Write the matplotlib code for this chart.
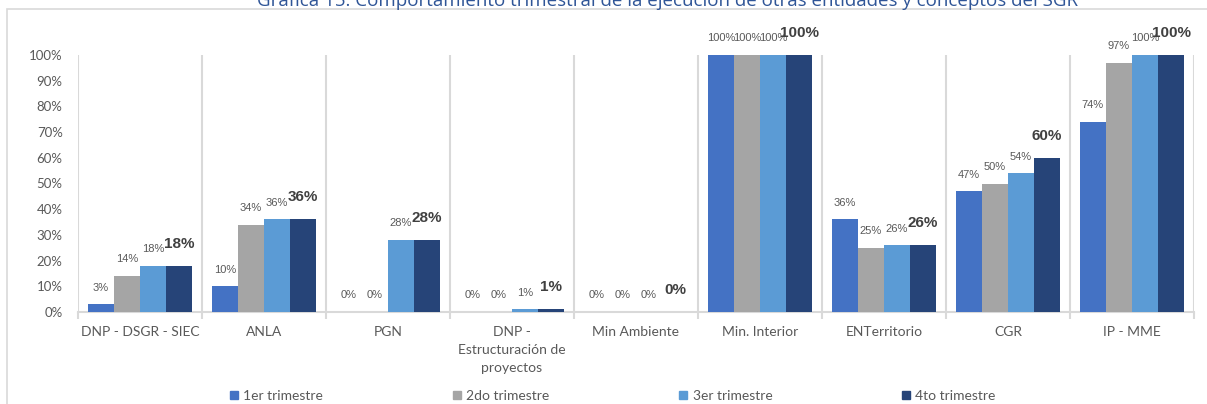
import matplotlib.pyplot as plt
from matplotlib.lines import Line2D
from matplotlib.patches import Rectangle
import numpy as np

categories = ['DNP - DSGR - SIEC', 'ANLA', 'PGN', 'DNP -\nEstructuración de\nproyectos',
              'Min Ambiente', 'Min. Interior', 'ENTerritorio', 'CGR', 'IP - MME']
series_names = ['1er trimestre', '2do trimestre', '3er trimestre', '4to trimestre']
q1 = [3, 10, 0, 0, 0, 100, 36, 47, 74]
q2 = [14, 34, 0, 0, 0, 100, 25, 50, 97]
q3 = [18, 36, 28, 1, 0, 100, 26, 54, 100]
q4 = [18, 36, 28, 1, 0, 100, 26, 60, 100]
colors = ['#4472C4', '#A5A5A5', '#5B9BD5', '#264478']

narrow = ['Lato', 'DejaVu Sans']
arial = ['Liberation Sans', 'DejaVu Sans']
grid_c = '#D9D9D9'
txt_c = '#595959'

fig = plt.figure(figsize=(12.07, 4.04), dpi=100)
W, H = 1207, 404
ax = fig.add_axes([78 / W, 1 - 312 / H, (1194 - 78) / W, (312 - 55) / H])

x = np.arange(len(categories))
width = 0.21
all_series = [q1, q2, q3, q4]
for i, vals in enumerate(all_series):
    pos = x + (i - 1.5) * width
    ax.bar(pos, np.array(vals) / 100, width, color=colors[i], label=series_names[i], zorder=3)
    for px, v in zip(pos, vals):
        if i == 3:
            # last quarter labels are bold and bigger
            ax.annotate(f'{v}%', (px, v / 100), xytext=(0, 16), textcoords='offset points',
                        ha='center', va='center', fontsize=11, fontweight='bold',
                        color='#404040', family=arial, annotation_clip=False)
        else:
            ax.annotate(f'{v}%', (px, v / 100), xytext=(0, 12), textcoords='offset points',
                        ha='center', va='center', fontsize=8, color=txt_c,
                        family=arial, annotation_clip=False)

ax.set_xlim(-0.5, len(categories) - 0.5)
ax.set_ylim(0, 1.0)
ax.set_yticks(np.arange(0, 1.01, 0.1))
ax.set_yticklabels([f'{int(round(t * 100))}%' for t in np.arange(0, 1.01, 0.1)],
                   family=narrow, fontsize=9.5, color=txt_c)
ax.tick_params(axis='y', length=0, pad=11)

ax.set_xticks(x)
ax.set_xticklabels(categories, family=narrow, fontsize=10, color=txt_c, linespacing=1.6, va='top')
ax.tick_params(axis='x', which='major', length=0, pad=10)
ax.set_xticks(np.arange(-0.5, len(categories), 1), minor=True)
ax.tick_params(axis='x', which='minor', length=5, width=1.5, color=grid_c, direction='out')
ax.grid(True, axis='x', which='minor', color=grid_c, linewidth=1.5, zorder=0)
ax.grid(False, axis='x', which='major')

for s in ['top', 'right', 'left']:
    ax.spines[s].set_visible(False)
ax.spines['bottom'].set_color(grid_c)
ax.spines['bottom'].set_linewidth(1.5)

# chart frame and caption (caption is cut at the top like the source)
fig.patches.append(Rectangle((7 / W, -0.05), 1.1, 1 - 9 / H + 0.05, transform=fig.transFigure,
                             fill=False, edgecolor=grid_c, linewidth=1.2))
fig.text(668 / W, 1 - 1 / H,
         'Gráfica 15. Comportamiento trimestral de la ejecución de otras entidades y conceptos del SGR',
         ha='center', va='center', fontsize=13.5, color='#2F5597', family=['Open Sans', 'DejaVu Sans'])

handles = [Line2D([], [], marker='s', linestyle='', markersize=6, color=c) for c in colors]
fig.legend(handles, series_names, loc='center', bbox_to_anchor=(612 / W, 8 / H), ncol=4,
           frameon=False, prop={'family': narrow, 'size': 10}, labelcolor=txt_c,
           handletextpad=0.3, columnspacing=9.2, handlelength=0.8)

fig.savefig('out.png', dpi=100)
